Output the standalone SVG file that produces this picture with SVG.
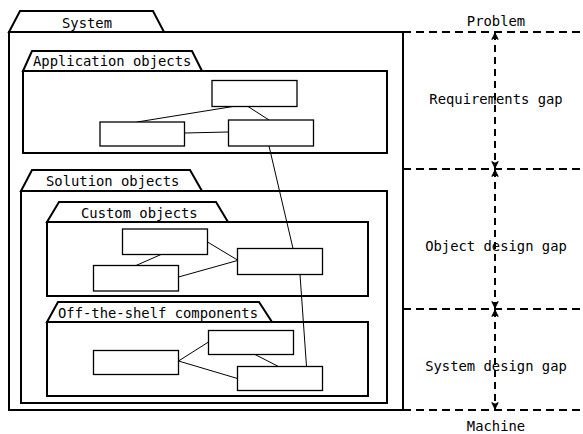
<svg xmlns="http://www.w3.org/2000/svg" width="583" height="434" viewBox="0 0 583 434">
  <style>
    .pkg { fill: #fff; stroke: #000; stroke-width: 2; stroke-linejoin: miter; }
    .box { fill: #fff; stroke: #000; stroke-width: 1.3; }
    .link { fill: none; stroke: #000; stroke-width: 1; }
    .level { fill: none; stroke: #000; stroke-width: 2; stroke-dasharray: 8 5; }
    .gap { fill: none; stroke: #000; stroke-width: 2; stroke-dasharray: 7 5; }
    text { font-family: "DejaVu Sans Mono", "Liberation Mono", monospace; font-size: 13.85px; fill: #000; }
    .mid { text-anchor: middle; }
  </style>
  <defs>
    <marker id="tip" viewBox="0 0 10 10" refX="9" refY="5" markerWidth="8" markerHeight="8" markerUnits="userSpaceOnUse" orient="auto-start-reverse">
      <path d="M1,1 L9,5 L1,9 L3,5 Z" fill="#000" stroke="#000" stroke-width="1.2" stroke-linejoin="miter"/>
    </marker>
  </defs>
  <rect width="583" height="434" fill="#fff"/>

  <!-- System package -->
  <g id="system">
    <path class="pkg" d="M9,32 L20,11 L153,11 L164,32 Z"/>
    <rect class="pkg" x="9" y="32" width="394" height="378"/>
    <text class="mid" x="87" y="28">System</text>
  </g>

  <!-- Application objects package -->
  <g id="application-objects">
    <path class="pkg" d="M23,71 L32,51 L192,51 L202,71 Z"/>
    <rect class="pkg" x="23" y="71" width="364" height="82"/>
    <text x="33" y="66">Application objects</text>
  </g>

  <!-- Solution objects package -->
  <g id="solution-objects">
    <path class="pkg" d="M21,191 L32,170 L190,170 L202,191 Z"/>
    <rect class="pkg" x="21" y="191" width="366" height="212"/>
    <text x="46" y="186">Solution objects</text>
  </g>

  <!-- Custom objects package -->
  <g id="custom-objects">
    <path class="pkg" d="M47,222 L59,202 L216,202 L228,222 Z"/>
    <rect class="pkg" x="47" y="222" width="321" height="74"/>
    <text x="81" y="218">Custom objects</text>
  </g>

  <!-- Off-the-shelf components package -->
  <g id="off-the-shelf">
    <path class="pkg" d="M47,322 L58,302 L259,302 L272,322 Z"/>
    <rect class="pkg" x="47" y="322" width="321" height="74"/>
    <text x="58" y="318">Off-the-shelf components</text>
  </g>

  <!-- Connectors between classes -->
  <g id="connectors">
    <line class="link" x1="233" y1="106.5" x2="137" y2="122"/>
    <line class="link" x1="248" y1="106.5" x2="269" y2="120"/>
    <line class="link" x1="184.5" y1="133" x2="228" y2="132"/>
    <line class="link" x1="269" y1="146" x2="293" y2="248.5"/>
    <line class="link" x1="161" y1="254.5" x2="136" y2="265.5"/>
    <line class="link" x1="207.5" y1="242" x2="237.5" y2="260"/>
    <line class="link" x1="178.5" y1="277" x2="237.5" y2="260.5"/>
    <line class="link" x1="300" y1="274.5" x2="306.5" y2="366.5"/>
    <line class="link" x1="178.5" y1="361" x2="208.5" y2="342"/>
    <line class="link" x1="178.5" y1="361" x2="237.5" y2="378.5"/>
    <line class="link" x1="255" y1="354.5" x2="278.5" y2="366.5"/>
  </g>

  <!-- Classes -->
  <g id="app-a"><rect class="box" x="212" y="80.5" width="85" height="26"/></g>
  <g id="app-b"><rect class="box" x="100" y="122" width="84.5" height="24"/></g>
  <g id="app-c"><rect class="box" x="228.5" y="120" width="85" height="26"/></g>
  <g id="custom-a"><rect class="box" x="122.5" y="229" width="85" height="25.5"/></g>
  <g id="custom-b"><rect class="box" x="93.5" y="265.5" width="85" height="25.5"/></g>
  <g id="custom-c"><rect class="box" x="237.5" y="248.5" width="85" height="26"/></g>
  <g id="ots-a"><rect class="box" x="93.5" y="350.5" width="85" height="24"/></g>
  <g id="ots-b"><rect class="box" x="208.5" y="330.5" width="85" height="24"/></g>
  <g id="ots-c"><rect class="box" x="237.5" y="366.5" width="85" height="24"/></g>

  <!-- Abstraction levels -->
  <g id="levels">
    <line class="level" x1="403" y1="32" x2="583" y2="32"/>
    <line class="level" x1="403" y1="169" x2="583" y2="169"/>
    <line class="level" x1="403" y1="309" x2="583" y2="309"/>
    <line class="level" x1="403" y1="410" x2="583" y2="410"/>
    <text class="mid" x="496" y="26">Problem</text>
    <text class="mid" x="496" y="431">Machine</text>
  </g>

  <!-- Gaps between levels -->
  <g id="gaps">
    <line class="gap" x1="495" y1="33" x2="495" y2="168" marker-start="url(#tip)" marker-end="url(#tip)"/>
    <line class="gap" x1="495" y1="170" x2="495" y2="308" marker-start="url(#tip)" marker-end="url(#tip)"/>
    <line class="gap" x1="495" y1="310" x2="495" y2="409" marker-start="url(#tip)" marker-end="url(#tip)"/>
    <text class="mid" x="496" y="104">Requirements gap</text>
    <text class="mid" x="496" y="251">Object design gap</text>
    <text class="mid" x="496" y="371">System design gap</text>
  </g>
</svg>
